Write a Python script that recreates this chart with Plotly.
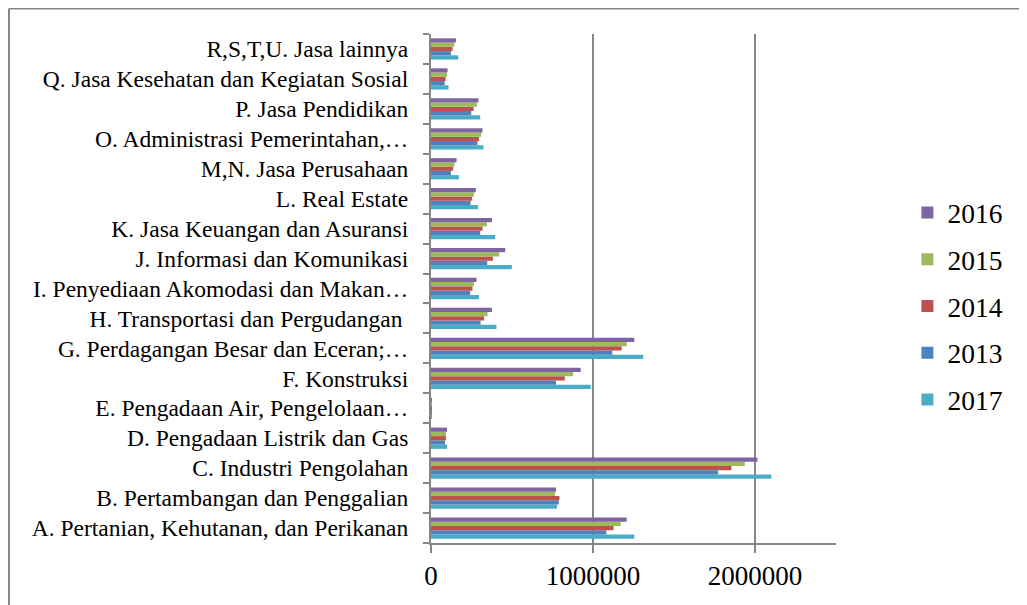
import plotly.graph_objects as go

categories = [
    "A. Pertanian, Kehutanan, dan Perikanan",
    "B. Pertambangan dan Penggalian",
    "C. Industri Pengolahan",
    "D. Pengadaan Listrik dan Gas",
    "E. Pengadaan Air, Pengelolaan…",
    "F. Konstruksi",
    "G. Perdagangan Besar dan Eceran;…",
    "H. Transportasi dan Pergudangan\u00a0",
    "I. Penyediaan Akomodasi dan Makan…",
    "J. Informasi dan Komunikasi",
    "K. Jasa Keuangan dan Asuransi",
    "L. Real Estate",
    "M,N. Jasa Perusahaan",
    "O. Administrasi Pemerintahan,…",
    "P. Jasa Pendidikan",
    "Q. Jasa Kesehatan dan Kegiatan Sosial",
    "R,S,T,U. Jasa lainnya",
]

v2017 = [1255000, 778000, 2101000, 100000, 6000, 986000, 1310000, 404000, 296000, 499000, 396000, 290000, 172000, 324000, 304000, 108000, 168000]
v2013 = [1082000, 789000, 1772000, 86000, 5000, 772000, 1119000, 306000, 242000, 347000, 304000, 244000, 123000, 287000, 248000, 84000, 123000]
v2014 = [1127000, 793000, 1854000, 92000, 5000, 826000, 1177000, 327000, 256000, 382000, 318000, 254000, 137000, 296000, 263000, 90000, 133000]
v2015 = [1171000, 766000, 1937000, 92000, 5000, 877000, 1208000, 349000, 265000, 421000, 345000, 265000, 145000, 310000, 283000, 99000, 144000]
v2016 = [1208000, 772000, 2015000, 99000, 6000, 924000, 1255000, 376000, 281000, 458000, 376000, 277000, 158000, 318000, 293000, 102000, 154000]

x_ticks = [0, 1000000, 2000000]
x_tick_text = ["0", "1000000", "2000000"]

# (name, values, colour, legend rank) - drawn bottom to top within each group
series = [
    ("2017", v2017, "#4BACC6", 5),
    ("2013", v2013, "#4F81BD", 4),
    ("2014", v2014, "#C0504D", 3),
    ("2015", v2015, "#9BBB59", 2),
    ("2016", v2016, "#8064A2", 1),
]

# page has an 8px body margin: figure pixel = reference pixel - 8
OFF = 8
W, H = 1027 - OFF, 605 - OFF
L, T = 431 - OFF, 34 - OFF
PR, PB = 836.5 - OFF, 543 - OFF
R, B = W - PR, H - PB
pw, ph = W - L - R, H - T - B

fig = go.Figure()
for name, vals, col, rank in series:
    fig.add_trace(go.Bar(
        y=categories, x=vals, name=name, orientation="h",
        marker=dict(color=col, line=dict(width=0)),
        legendgroup=name, legendrank=rank,
    ))

axis_grey = "#868686"
font_family = "Times New Roman"

def px_x(ref_x):
    return (ref_x - OFF - L) / pw

def px_y(ref_y):
    return 1 - (ref_y - OFF - T) / ph

fig.update_layout(
    width=W, height=H,
    margin=dict(l=L, r=R, t=T, b=B, pad=0),
    paper_bgcolor="white", plot_bgcolor="white",
    barmode="group", bargap=0.29, bargroupgap=0,
    font=dict(family=font_family, color="black"),
    legend=dict(
        traceorder="grouped", tracegroupgap=8,
        x=px_x(908), xanchor="left",
        y=px_y(306), yanchor="middle",
        font=dict(size=27.5, family=font_family, color="black"),
        bgcolor="rgba(0,0,0,0)",
    ),
    xaxis=dict(
        range=[0, 2500000], tickvals=x_ticks, ticktext=x_tick_text,
        showgrid=True, gridcolor=axis_grey, gridwidth=2,
        showline=True, linecolor=axis_grey, linewidth=2,
        ticks="outside", ticklen=8, tickwidth=2, tickcolor=axis_grey,
        tickfont=dict(size=27, family=font_family, color="black"),
        zeroline=False, fixedrange=True,
    ),
    yaxis=dict(
        type="category", categoryorder="array", categoryarray=categories,
        showline=True, linecolor=axis_grey, linewidth=2,
        ticks="outside", ticklen=6, tickwidth=2, tickcolor=axis_grey,
        tickson="boundaries", showgrid=False,
        tickfont=dict(size=23.5, family=font_family, color="black"),
        ticklabelstandoff=16,
        fixedrange=True,
    ),
)

# outer chart border (top and left visible, right/bottom cropped)
bx0 = px_x(8.5)
by1 = px_y(8.5)
fig.add_shape(type="line", xref="paper", yref="paper",
              x0=bx0, x1=bx0, y0=px_y(640), y1=by1,
              line=dict(color=axis_grey, width=2))
fig.add_shape(type="line", xref="paper", yref="paper",
              x0=bx0, x1=px_x(1040), y0=by1, y1=by1,
              line=dict(color=axis_grey, width=2))

fig.write_html("out.html")
